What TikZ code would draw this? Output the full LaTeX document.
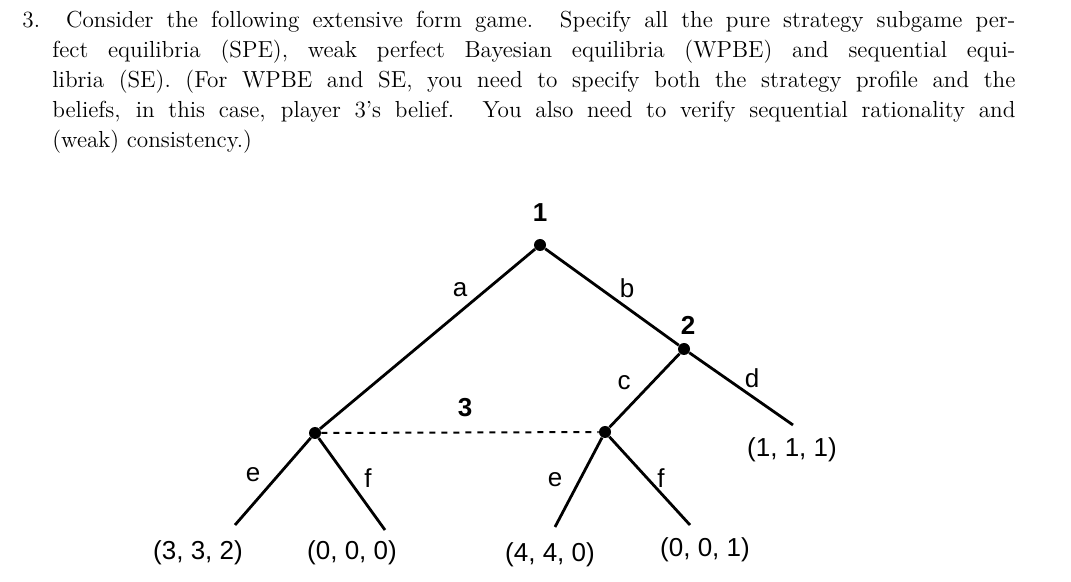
\documentclass[tikz,border=0pt]{standalone}
\usepackage{fontspec}
\newfontfamily\lab{Liberation Sans}
\begin{document}
\begin{tikzpicture}[x=0.5pt,y=-0.5pt,
  edge/.style={line width=1.4pt},
  dot/.style={circle,fill=black,inner sep=0pt,minimum size=6pt},
  lbl/.style={font=\lab\fontsize{13}{15}\selectfont,inner sep=0pt},
  pl/.style={font=\lab\bfseries\fontsize{13}{15}\selectfont,inner sep=0pt},
  txt/.style={anchor=base west,inner sep=0pt,font=\fontsize{11.6}{14}\selectfont}]
\useasboundingbox (0,0) rectangle (1071,582);
\node[txt] (t1) at (22,28) {\makebox[496.5pt][s]{3.\ \ Consider the following extensive form game. Specify all the pure strategy subgame per-}};
\node[txt] (t2) at (52,58) {\makebox[481.5pt][s]{fect equilibria (SPE), weak perfect Bayesian equilibria (WPBE) and sequential equi-}};
\node[txt] (t3) at (52,88) {\makebox[481.5pt][s]{libria (SE). (For WPBE and SE, you need to specify both the strategy profile and the}};
\node[txt] (t4) at (52,118) {\makebox[481.5pt][s]{beliefs, in this case, player 3's belief. You also need to verify sequential rationality and}};
\node[txt] (t5) at (52,148) {(weak) consistency.)};

\node[dot] (r) at (540,245) {};
\node[dot] (n2) at (684,349) {};
\node[dot] (L) at (315,433) {};
\node[dot] (R) at (605,432) {};
\coordinate (d) at (793,425);
\coordinate (Le) at (235,525);
\coordinate (Lf) at (385,530);
\coordinate (Re) at (555,527);
\coordinate (Rf) at (690,525);
\draw[edge] (r) -- (L);
\draw[edge] (r) -- (n2);
\draw[edge] (n2) -- (d);
\draw[edge] (n2) -- (R);
\draw[edge] (L) -- (Le);
\draw[edge] (L) -- (Lf);
\draw[edge] (R) -- (Re);
\draw[edge] (R) -- (Rf);
\draw[line width=1pt,dashed] (L) -- (R);

\node[pl] (p1) at (540,213) {1};
\node[pl] (p2) at (688,325) {2};
\node[pl] (p3) at (465,408) {3};
\node[lbl] (la) at (460,290) {a};
\node[lbl] (lb) at (627,288) {b};
\node[lbl] (lc) at (624,383) {c};
\node[lbl] (ld) at (752,378) {d};
\node[lbl] (le1) at (253,475) {e};
\node[lbl] (lf1) at (368,478) {f};
\node[lbl] (le2) at (555,480) {e};
\node[lbl] (lf2) at (661,478) {f};
\node[lbl] (o1) at (198,553) {(3, 3, 2)};
\node[lbl] (o2) at (352,553) {(0, 0, 0)};
\node[lbl] (o3) at (550,555) {(4, 4, 0)};
\node[lbl] (o4) at (705,550) {(0, 0, 1)};
\node[lbl] (o5) at (792,450) {(1, 1, 1)};
\end{tikzpicture}
\end{document}
